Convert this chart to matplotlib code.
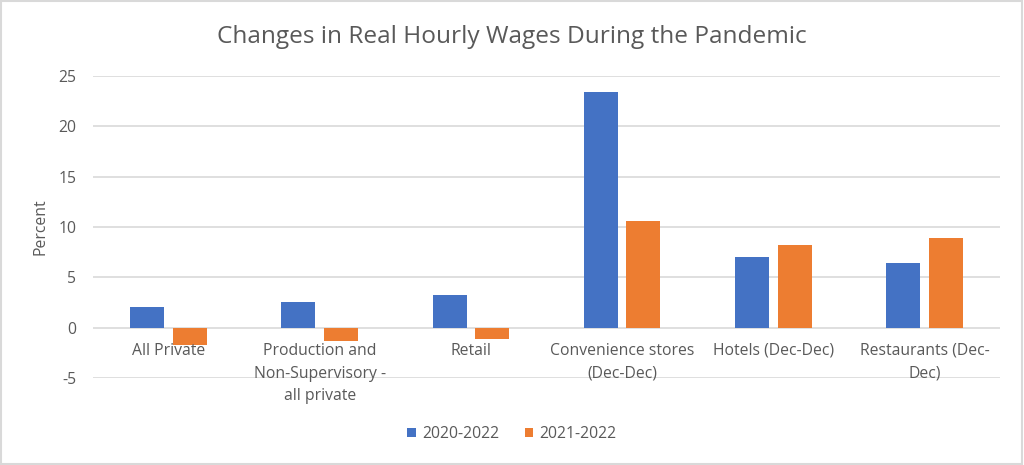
import matplotlib
matplotlib.use("Agg")
import matplotlib.pyplot as plt
from matplotlib.patches import Rectangle
import numpy as np

categories = ["All Private", "Production and\nNon-Supervisory -\nall private", "Retail",
              "Convenience stores\n(Dec-Dec)", "Hotels (Dec-Dec)", "Restaurants (Dec-\nDec)"]
series_names = ["2020-2022", "2021-2022"]
values_2020_2022 = [2.1, 2.5, 3.2, 23.4, 7.0, 6.4]
values_2021_2022 = [-1.7, -1.3, -1.1, 10.6, 8.2, 8.9]
yticks = [-5, 0, 5, 10, 15, 20, 25]

BLUE = "#4472C4"
ORANGE = "#ED7D31"
TXT = "#595959"
GRID = "#D9D9D9"
FONT = "Open Sans"
FS = 11.3

plt.rcParams['font.family'] = [FONT, 'DejaVu Sans']

fig = plt.figure(figsize=(10.24, 4.65), dpi=100)
# outer border
fig.patches.append(Rectangle((0.001, 0.002), 0.997, 0.995, transform=fig.transFigure,
                             fill=False, edgecolor="#D9D9D9", linewidth=1.5))

ax = fig.add_axes([93/1024, 1 - 378/465, (1000 - 93)/1024, (378 - 76)/465])
x = np.arange(len(categories))
w = 0.225
off = 0.141
ax.bar(x - off, values_2020_2022, w, color=BLUE, label=series_names[0], zorder=3)
ax.bar(x + off, values_2021_2022, w, color=ORANGE, label=series_names[1], zorder=3)

ax.set_xlim(-0.5, len(categories) - 0.5)
ax.set_ylim(-5, 25)
ax.set_yticks(yticks)
ax.set_yticklabels([str(t) for t in yticks], color=TXT, fontsize=FS)
ax.tick_params(axis='y', length=0, pad=12)
ax.set_xticks([])
ax.grid(axis='y', color=GRID, linewidth=1.2, zorder=0)
for s in ax.spines.values():
    s.set_visible(False)

for xi, lab in zip(x, categories):
    ax.annotate(lab, (xi, 0), xytext=(0, -11), textcoords='offset points',
                ha='center', va='top', color=TXT, fontsize=FS, linespacing=1.55)

ax.set_ylabel("Percent", color=TXT, fontsize=FS, labelpad=7)

fig.text(0.5, 1 - 37/465, "Changes in Real Hourly Wages During the Pandemic",
         ha='center', va='center', color=TXT, fontsize=17.6)

leg = fig.legend(loc='center', bbox_to_anchor=(0.5, 1 - 434/465), ncol=2, frameon=False,
                 fontsize=FS, handlelength=0.55, handleheight=0.55, handletextpad=0.4,
                 columnspacing=1.6, labelcolor=TXT)

fig.savefig("out.png", dpi=100)
